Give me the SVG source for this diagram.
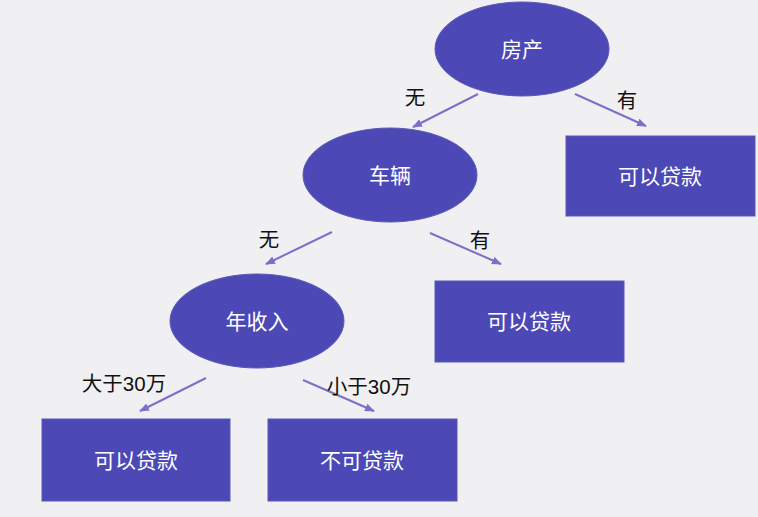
<svg xmlns="http://www.w3.org/2000/svg" width="758" height="517" viewBox="0 0 758 517">
<style>
.n{fill:#4c48b6;stroke:#5a57b8;stroke-width:1}
.t{font-family:"Liberation Sans","Noto Sans CJK SC",sans-serif;font-size:21px;fill:#ffffff;text-anchor:middle;dominant-baseline:central}
.l{font-family:"Liberation Sans","Noto Sans CJK SC",sans-serif;font-size:20.5px;fill:#111111;text-anchor:middle;dominant-baseline:central}
.e{stroke:#7d6fc9;stroke-width:2;fill:none;marker-end:url(#a)}
</style>
<defs>
<marker id="a" viewBox="0 0 10 10" refX="9" refY="5" markerWidth="5" markerHeight="5" orient="auto" markerUnits="strokeWidth">
<path d="M0,1 L10,5 L0,9 z" fill="#7d6fc9"/>
</marker>
</defs>
<rect width="758" height="517" fill="#f0f0f2"/>
<g id="edges">
<line class="e" x1="478" y1="94" x2="413" y2="127"/>
<line class="e" x1="575" y1="94" x2="646" y2="126"/>
<line class="e" x1="332" y1="232" x2="266" y2="264"/>
<line class="e" x1="430" y1="233" x2="501" y2="264"/>
<line class="e" x1="206" y1="378" x2="140" y2="411"/>
<line class="e" x1="303" y1="380" x2="374" y2="411"/>
<text class="l" x="415" y="97">无</text>
<text class="l" x="627" y="100">有</text>
<text class="l" x="269" y="239">无</text>
<text class="l" x="480" y="240">有</text>
<text class="l" x="124" y="383">大于30万</text>
<text class="l" x="369" y="386">小于30万</text>
</g>
<g id="n1"><ellipse class="n" cx="522" cy="49" rx="87" ry="47"/><text class="t" x="522" y="49">房产</text></g>
<g id="n2"><ellipse class="n" cx="390" cy="175" rx="87" ry="47"/><text class="t" x="390" y="175">车辆</text></g>
<g id="n3"><rect class="n" x="566" y="136" width="189" height="80"/><text class="t" x="660" y="176">可以贷款</text></g>
<g id="n4"><ellipse class="n" cx="257" cy="321" rx="87" ry="47"/><text class="t" x="257" y="321">年收入</text></g>
<g id="n5"><rect class="n" x="435" y="281" width="189" height="81"/><text class="t" x="529" y="321">可以贷款</text></g>
<g id="n6"><rect class="n" x="42" y="419" width="188" height="82"/><text class="t" x="136" y="460">可以贷款</text></g>
<g id="n7"><rect class="n" x="268" y="419" width="189" height="82"/><text class="t" x="362" y="460">不可贷款</text></g>
</svg>
